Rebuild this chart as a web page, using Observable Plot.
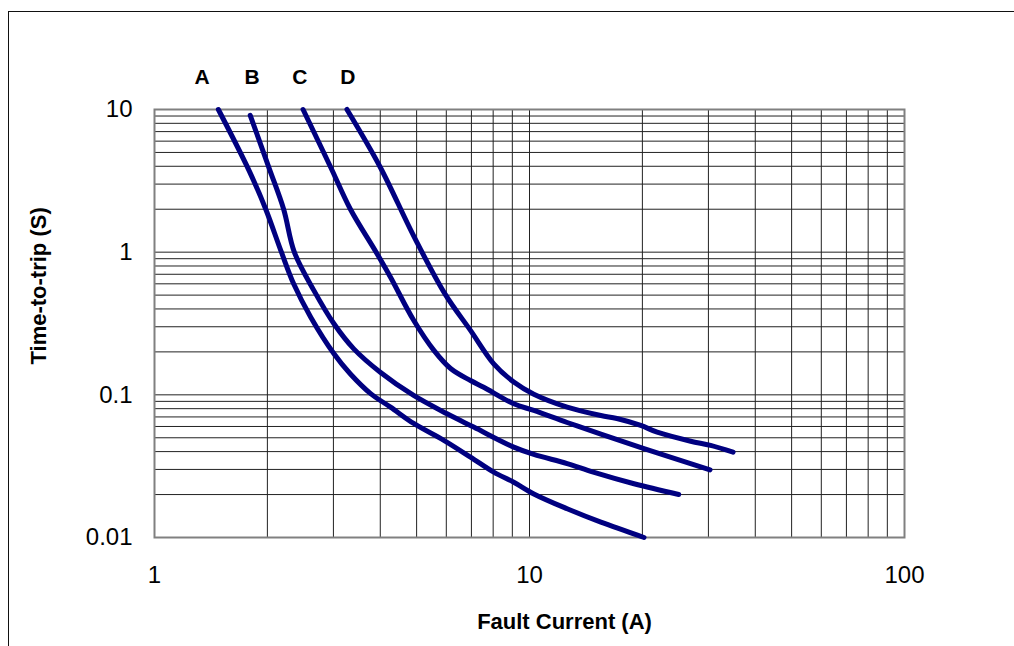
<!DOCTYPE html>
<html>
<head>
<meta charset="utf-8">
<script src="https://cdn.jsdelivr.net/npm/d3@7"></script>
<script src="https://cdn.jsdelivr.net/npm/@observablehq/plot@0.6"></script>
<style>
  html, body { margin: 0; padding: 0; background: #fff; overflow: hidden; }
  #wrap { position: relative; width: 1014px; height: 646px; }
  #border { position: absolute; left: 8px; top: 11px; width: 1100px; height: 700px; border: 1px solid #111; box-sizing: border-box; }
  #chart { position: absolute; left: 0; top: 0; }
</style>
</head>
<body>
<div id="wrap"><div id="border"></div><div id="chart"></div></div>
<script>
// Curve data: fault current (A) and time-to-trip (s)
const curveA_current = [1.48, 1.79, 1.98, 2.18, 2.35, 2.61, 3.01, 3.33, 3.77, 4.26, 4.91, 5.91, 6.96, 8.03, 9.08, 10.27, 12.6, 15.5, 20.2];
const curveA_time    = [10, 3.7, 2.0, 1.0, 0.60, 0.35, 0.194, 0.140, 0.102, 0.082, 0.063, 0.048, 0.0366, 0.0287, 0.0244, 0.0202, 0.0159, 0.0128, 0.0100];

const curveB_current = [1.80, 2.02, 2.21, 2.36, 2.66, 3.01, 3.40, 4.0, 4.91, 6.03, 7.1, 9.08, 10.27, 12.6, 14.8, 19.0, 25.0];
const curveB_time    = [9.1, 3.9, 2.0, 1.0, 0.54, 0.315, 0.21, 0.144, 0.099, 0.0736, 0.0594, 0.043, 0.0382, 0.0330, 0.0287, 0.0238, 0.0200];

const curveC_current = [2.49, 2.95, 3.33, 3.9, 4.26, 4.91, 5.56, 6.16, 6.96, 7.55, 9.08, 10.27, 12.6, 15.5, 20.2, 30.3];
const curveC_time    = [10, 3.94, 2.0, 1.0, 0.667, 0.333, 0.205, 0.153, 0.126, 0.113, 0.0866, 0.0777, 0.064, 0.053, 0.0419, 0.0298];

const curveD_current = [3.26, 4.0, 4.91, 5.95, 6.96, 8.03, 9.08, 10.27, 12.6, 15.5, 17.1, 19.8, 21.9, 26.9, 30.4, 34.9];
const curveD_time    = [10, 3.94, 1.3, 0.51, 0.283, 0.165, 0.123, 0.101, 0.082, 0.0716, 0.0683, 0.061, 0.0547, 0.0473, 0.0442, 0.0396];

const curveNames = ["A", "B", "C", "D"];
const labelCurrent = [1.34, 1.82, 2.44, 3.28];

const xTickValues = [1, 10, 100];
const xTickLabels = ["1", "10", "100"];
const yTickValues = [0.01, 0.1, 1, 10];
const yTickLabels = ["0.01", "0.1", "1", "10"];

const xGrid = [1,2,3,4,5,6,7,8,9,10,20,30,40,50,60,70,80,90,100];
const yGrid = [0.01,0.02,0.03,0.04,0.05,0.06,0.07,0.08,0.09,0.1,0.2,0.3,0.4,0.5,0.6,0.7,0.8,0.9,1,2,3,4,5,6,7,8,9,10];

const xTitle = "Fault Current (A)";
const yTitle = "Time-to-trip (S)";

const curves = [
  [curveA_current, curveA_time],
  [curveB_current, curveB_time],
  [curveC_current, curveC_time],
  [curveD_current, curveD_time]
];
const rows = curves.flatMap(([xs, ys], i) => xs.map((x, j) => ({curve: curveNames[i], current: x, time: ys[j]})));
const labels = curveNames.map((n, i) => ({name: n, current: labelCurrent[i]}));

const font = "'Liberation Sans', Arial, Helvetica, sans-serif";

const chart = Plot.plot({
  width: 1014,
  height: 646,
  marginLeft: 154,
  marginRight: 110,
  marginTop: 109,
  marginBottom: 109,
  style: {fontFamily: font, background: "transparent", color: "#000"},
  x: {type: "log", domain: [1, 100]},
  y: {type: "log", domain: [0.01, 10]},
  marks: [
    Plot.gridX(xGrid, {stroke: "#222", strokeOpacity: 1, strokeWidth: 1}),
    Plot.gridY(yGrid, {stroke: "#222", strokeOpacity: 1, strokeWidth: 1}),
    Plot.frame({stroke: "#808080", strokeWidth: 2}),
    Plot.axisX({ticks: xTickValues, tickFormat: d => xTickLabels[xTickValues.indexOf(d)], tickSize: 0, tickPadding: 28, fontSize: 24, label: null}),
    Plot.axisY({ticks: yTickValues, tickFormat: d => yTickLabels[yTickValues.indexOf(d)], tickSize: 0, tickPadding: 22, fontSize: 24, label: null}),
    Plot.line(rows, {x: "current", y: "time", z: "curve", stroke: "#000080", strokeWidth: 5, strokeLinecap: "round", strokeLinejoin: "round", curve: "catmull-rom"}),
    Plot.text(labels, {x: "current", text: "name", frameAnchor: "top", lineAnchor: "middle", dy: -32, fontSize: 21, fontWeight: "bold", fill: "#000"}),
    Plot.text([xTitle], {text: d => d, frameAnchor: "bottom", lineAnchor: "middle", dx: 35, dy: 84, fontSize: 22, fontWeight: "bold", fill: "#000"}),
    Plot.text([yTitle], {text: d => d, frameAnchor: "left", lineAnchor: "middle", dx: -116, dy: 41, rotate: -90, fontSize: 22, fontWeight: "bold", fill: "#000"})
  ]
});
document.getElementById("chart").appendChild(chart);
</script>
</body>
</html>
